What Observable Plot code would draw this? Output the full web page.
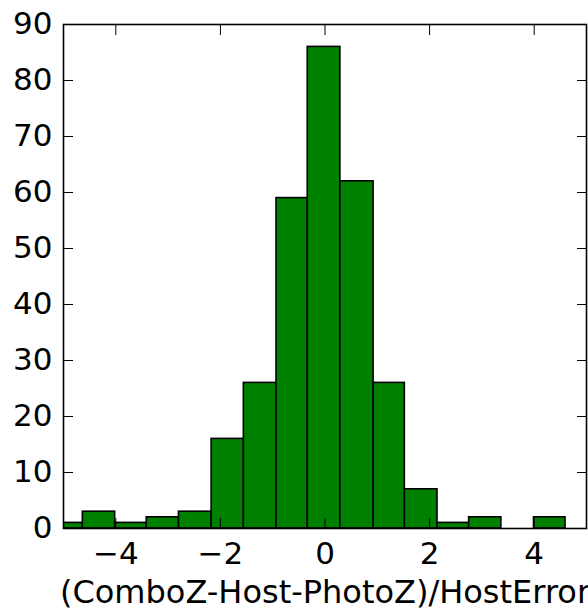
<!DOCTYPE html>
<html>
<head>
<meta charset="utf-8">
<script src="https://cdn.jsdelivr.net/npm/d3@7"></script>
<script src="https://cdn.jsdelivr.net/npm/@observablehq/plot@0.6"></script>
<style>
  html, body { margin: 0; padding: 0; background: #fff; overflow: hidden; }
  #chart svg { font-family: "DejaVu Sans", sans-serif; }
</style>
</head>
<body>
<div id="chart"></div>
<script>
// Histogram bin edges (lower edges + final upper edge) and counts
const binEdges = [-5.245, -4.63, -4.013, -3.408, -2.792, -2.168, -1.552, -0.927, -0.33, 0.294, 0.929, 1.527, 2.151, 2.756, 3.372, 3.996, 4.599];
const counts   = [1, 3, 1, 2, 3, 16, 26, 59, 86, 62, 26, 7, 1, 2, 0, 2];
const xTicks = [-4, -2, 0, 2, 4];
const yTicks = [0, 10, 20, 30, 40, 50, 60, 70, 80, 90];
const xLabel = "(ComboZ-Host-PhotoZ)/HostError";

const bins = counts.map((c, i) => ({x1: binEdges[i], x2: binEdges[i + 1], count: c}));
const fmt = d => d < 0 ? "\u2212" + Math.abs(d) : String(d);
const FS = 31;

const chart = Plot.plot({
  width: 588,
  height: 615,
  marginLeft: 63,
  marginRight: 2,
  marginTop: 24,
  marginBottom: 87,
  style: {fontFamily: "DejaVu Sans, sans-serif", fontSize: FS + "px", background: "#fff", color: "black", overflow: "visible"},
  x: {domain: [-5, 5]},
  y: {domain: [0, 90]},
  marks: [
    Plot.rectY(bins, {x1: "x1", x2: "x2", y: "count", fill: "#008000", stroke: "black", strokeWidth: 1.6, clip: true}),
    Plot.frame({stroke: "black", strokeWidth: 1.6}),
    Plot.axisY({anchor: "left", ticks: yTicks, tickSize: -10, tickPadding: 21, tickFormat: fmt, label: null, fontSize: FS, stroke: "black"}),
    Plot.axisY({anchor: "right", ticks: yTicks, tickSize: -10, label: null, fill: "none", stroke: "black"}),
    Plot.axisX({anchor: "bottom", ticks: xTicks, tickSize: -10, tickPadding: 23, tickFormat: fmt, label: null, fontSize: FS, stroke: "black"}),
    Plot.axisX({anchor: "top", ticks: xTicks, tickSize: -10, label: null, fill: "none", stroke: "black"}),
    Plot.text([xLabel], {text: d => d, frameAnchor: "bottom", lineAnchor: "middle", dy: 64, fontSize: 32, fill: "black"})
  ]
});
document.getElementById("chart").appendChild(chart);
</script>
</body>
</html>
